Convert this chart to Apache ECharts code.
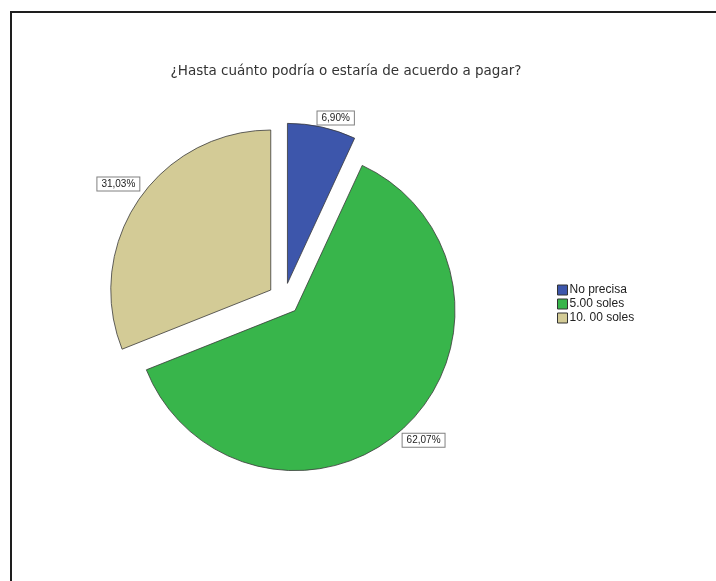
<!DOCTYPE html>
<html>
<head>
<meta charset="utf-8">
<script src="https://cdn.jsdelivr.net/npm/echarts@6/dist/echarts.min.js"></script>
<style>
  html, body { margin: 0; padding: 0; background: #ffffff; }
  #chart { width: 716px; height: 581px; }
</style>
</head>
<body>
<div id="chart"></div>
<script>
// Survey question and answer shares (percent of respondents)
const chartTitle = '¿Hasta cuánto podría o estaría de acuerdo a pagar?';
const categories = ['No precisa', '5.00 soles', '10. 00 soles'];
const percents = [6.90, 62.07, 31.03];
const sliceColors = ['#3d56ab', '#38b54b', '#d3cb96'];

const FONT = '"Liberation Sans", Arial, sans-serif';
const TITLE_FONT = '"DejaVu Sans", Verdana, sans-serif';
const EXPLODE = 16;

// Percent label in Spanish decimal notation, e.g. 62,07%
const formatPercent = v => v.toFixed(2).replace('.', ',') + '%';

const chart = echarts.init(document.getElementById('chart'), null, { renderer: 'canvas' });

chart.setOption({
  animation: false,
  backgroundColor: '#ffffff',
  title: {
    text: chartTitle,
    left: 341,
    top: 59,
    textAlign: 'center',
    textStyle: { fontFamily: TITLE_FONT, fontSize: 13.5, fontWeight: 'normal', color: '#333333' }
  },
  graphic: [{
    type: 'rect',
    silent: true,
    shape: { x: 11, y: 12, width: 900, height: 800 },
    style: { fill: 'none', stroke: '#1e1e1e', lineWidth: 2 }
  }],
  legend: {
    orient: 'vertical',
    left: 557,
    top: 284,
    padding: 0,
    itemWidth: 10,
    itemHeight: 10,
    itemGap: 2,
    icon: 'rect',
    selectedMode: false,
    data: categories,
    itemStyle: { borderColor: '#333333', borderWidth: 1 },
    textStyle: { fontFamily: FONT, fontSize: 12, color: '#222222', padding: [0, 0, 0, -3] }
  },
  series: [{
    type: 'pie',
    center: [284, 299],
    radius: 160,
    startAngle: 90,
    clockwise: true,
    selectedMode: 'multiple',
    selectedOffset: EXPLODE,
    avoidLabelOverlap: false,
    emphasis: { disabled: true },
    itemStyle: { borderColor: '#3a3a3a', borderWidth: 0.8 },
    data: categories.map((name, i) => ({
      name: name,
      value: percents[i],
      selected: true,
      itemStyle: { color: sliceColors[i] }
    })),
    label: {
      show: true,
      position: 'outside',
      formatter: p => formatPercent(p.value),
      fontFamily: FONT,
      fontSize: 10,
      color: '#222222',
      backgroundColor: '#ffffff',
      borderColor: '#808080',
      borderWidth: 1,
      padding: [2, 4, 1, 4]
    },
    labelLine: { show: true, length: 10, length2: 0, lineStyle: { opacity: 0 } },
    // Centre each label box on its outside anchor and nudge it: sideways away
    // from the pie, and vertically more for the flatter (side) slices.
    labelLayout: params => {
      const pts = params.labelLinePoints;
      if (!pts || pts.length < 2) return {};
      const x0 = pts[0][0], y0 = pts[0][1];
      const len = Math.hypot(pts[1][0] - x0, pts[1][1] - y0) || 1;
      const ux = (pts[1][0] - x0) / len;
      const uy = (pts[1][1] - y0) / len;
      return {
        align: 'center',
        verticalAlign: 'middle',
        dx: 6.7 * Math.sign(ux),
        dy: 25.8 * Math.sign(uy) - 27 * uy
      };
    }
  }]
});
</script>
</body>
</html>
